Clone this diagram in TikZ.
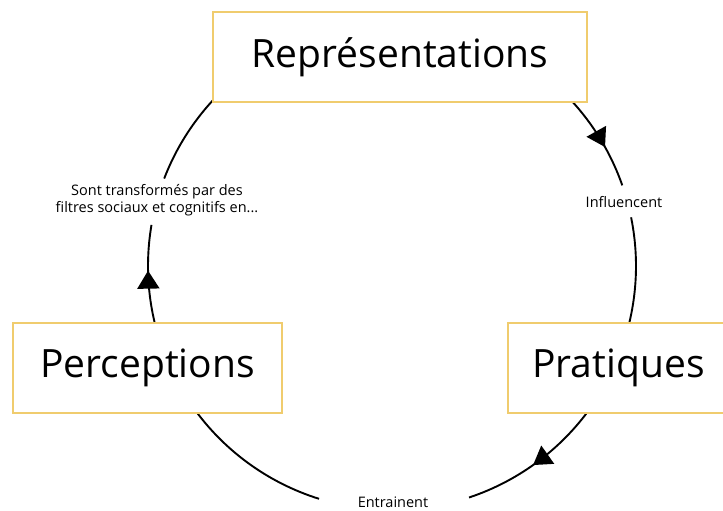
\documentclass[tikz,border=0pt]{standalone}
\usepackage{fontspec}
\setmainfont{Open Sans}
\usetikzlibrary{arrows.meta,decorations.markings}
\definecolor{boxline}{HTML}{F0CC6E}
\pgfdeclarelayer{bg}
\pgfsetlayers{bg,main}
\tikzset{
  bigbox/.style={draw=boxline, line width=1.4pt, fill=white, minimum height=90pt, inner sep=0pt,
                 font=\fontsize{39}{47}\selectfont},
  smalllabel/.style={font=\fontsize{14.5}{17.5}\selectfont, align=center, inner sep=0pt},
  conn/.style={line width=1.9pt, black},
  arrowmid/.style={postaction=decorate, decoration={markings,
      mark=at position #1 with {\arrow{Triangle[width=22pt,length=18pt]}}}}
}
\begin{document}
\begin{tikzpicture}[x=1pt,y=1pt]
\useasboundingbox (0,0) rectangle (723,511);
\clip (0,0) rectangle (723,511);
\coordinate (c) at (392,245);
\node[bigbox, minimum width=374pt] (rep) at (400,454) {Représentations};
\node[bigbox, minimum width=269pt] (perc) at (147.5,143) {Perceptions};
\node[bigbox, minimum width=221pt] (prat) at (618.5,143) {Pratiques};
\node[smalllabel] (infl) at (624,309) {Influencent};
\node[smalllabel] (entr) at (393,9) {Entrainent};
\node[smalllabel] (filt) at (157,311) {Sont transformés par des\\filtres sociaux et cognitifs en...};
\begin{pgfonlayer}{bg}
  \fill[white] (0,0) rectangle (723,511);
  \draw[conn, arrowmid=0.6] ([shift={(44:244)}]c) arc[start angle=44, end angle=19.3, radius=244];
  \draw[conn] ([shift={(11.5:244)}]c) arc[start angle=11.5, end angle=-16, radius=244];
  \draw[conn, arrowmid=0.55] ([shift={(-34:244)}]c) arc[start angle=-34, end angle=-71.6, radius=244];
  \draw[conn] ([shift={(-107.4:244)}]c) arc[start angle=-107.4, end angle=-146, radius=244];
  \draw[conn, arrowmid=0.58] ([shift={(196:244)}]c) arc[start angle=196, end angle=170.3, radius=244];
  \draw[conn] ([shift={(159:244)}]c) arc[start angle=159, end angle=135, radius=244];
\end{pgfonlayer}
\end{tikzpicture}
\end{document}
